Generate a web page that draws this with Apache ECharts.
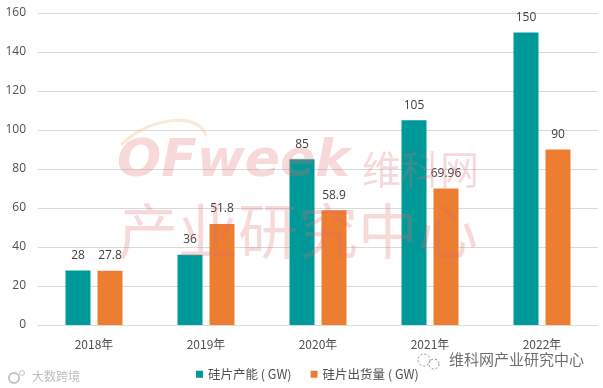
<!DOCTYPE html>
<html><head><meta charset="utf-8">
<style>html,body{margin:0;padding:0;background:#fff}#c{width:603px;height:388px}</style>
<script src="https://cdn.jsdelivr.net/npm/echarts@6/dist/echarts.min.js"></script>
</head><body><div id="c"></div>
<script>
const categories = ['2018年','2019年','2020年','2021年','2022年'];
const capacityName = '硅片产能 ( GW)';
const shipmentName = '硅片出货量 ( GW)';
const capacity = [28,36,85,105,150];
const shipment = [27.8,51.8,58.9,69.96,90];
const font = '"Noto Sans CJK SC","Open Sans",sans-serif';
const wm = 'rgba(226,110,110,0.26)';
const chart = echarts.init(document.getElementById('c'),null,{renderer:'canvas'});
const label = {show:true,position:'top',distance:9,color:'#404040',fontSize:12,fontFamily:'"Open Sans",sans-serif'};
chart.setOption({
  animation:false,
  backgroundColor:'#fff',
  grid:{left:38,right:5,top:13,bottom:63,containLabel:false},
  legend:{top:363,left:191,itemWidth:7,itemHeight:7,itemGap:19,icon:'rect',
    textStyle:{color:'#505050',fontSize:12.5,fontFamily:font},
    data:[capacityName,shipmentName]},
  xAxis:{type:'category',data:categories,
    axisLine:{lineStyle:{color:'#d9d9d9'}},axisTick:{show:false},
    axisLabel:{color:'#505050',fontSize:12,margin:13,fontFamily:font}},
  yAxis:{type:'value',min:0,max:160,interval:20,
    axisLine:{show:false},axisTick:{show:false},
    splitLine:{lineStyle:{color:'#d9d9d9',width:1}},
    axisLabel:{color:'#505050',fontSize:12,margin:12,fontFamily:'"Open Sans",sans-serif'}},
  series:[
    {name:capacityName,type:'bar',data:capacity,barWidth:25,barGap:'28%',itemStyle:{color:'#009999'},label},
    {name:shipmentName,type:'bar',data:shipment,barWidth:25,itemStyle:{color:'#ed7d31'},label}
  ],
  graphic:[
    {type:'bezierCurve',z:100,shape:{x1:121,y1:145,cpx1:150,cpy1:116,cpx2:200,cpy2:112,x2:206,y2:136},style:{stroke:'rgba(240,200,150,0.4)',lineWidth:3,fill:null}},
    {type:'text',z:100,left:117,top:136,style:{text:'OFweek',fill:wm,fontSize:52,fontWeight:'bold',fontStyle:'italic',fontFamily:'"DejaVu Sans",sans-serif'}},
    {type:'text',z:100,left:362,top:150,style:{text:'维科网',fill:wm,fontSize:39,fontFamily:font}},
    {type:'text',z:100,left:118,top:201,style:{text:'产业研究中心',fill:wm,fontSize:60,fontFamily:font}},
    {type:'circle',z:100,shape:{cx:424,cy:360,r:6},style:{fill:null,stroke:'#8a8a8a',lineWidth:1,lineDash:[2,2]}},
    {type:'circle',z:100,shape:{cx:434,cy:364,r:5},style:{fill:null,stroke:'#8a8a8a',lineWidth:1,lineDash:[2,2]}},
    {type:'text',z:100,left:449,top:352,style:{text:'维科网产业研究中心',fill:'#6f6f6f',fontSize:15,fontFamily:font}},
    {type:'circle',z:100,shape:{cx:14,cy:378,r:5},style:{fill:null,stroke:'rgba(170,170,170,0.7)',lineWidth:2}},
    {type:'circle',z:100,shape:{cx:22,cy:373,r:2.5},style:{fill:null,stroke:'rgba(170,170,170,0.7)',lineWidth:1}},
    {type:'text',z:100,left:32,top:370,style:{text:'大数跨境',fill:'rgba(165,165,165,0.75)',fontSize:12,fontFamily:font}}
  ]
});
</script></body></html>
